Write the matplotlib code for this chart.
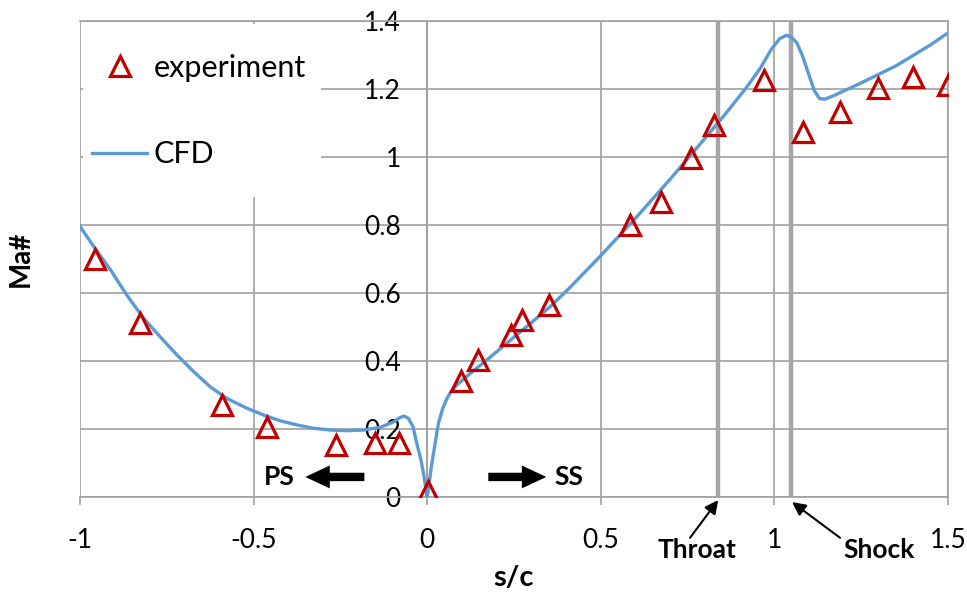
import numpy as np
import matplotlib
matplotlib.use('Agg')
import matplotlib.pyplot as plt
from matplotlib.patches import Rectangle

plt.rcParams['font.family'] = ['Lato', 'DejaVu Sans']
plt.rcParams['axes.unicode_minus'] = False

# 实验数据 (s/c, Ma)
exp_x = [-0.956, -0.826, -0.590, -0.461, -0.262, -0.150, -0.080, 0.003,
         0.098, 0.147, 0.242, 0.273, 0.351, 0.584, 0.674, 0.760, 0.826,
         0.970, 1.082, 1.189, 1.298, 1.399, 1.500]
exp_y = [0.700, 0.512, 0.270, 0.206, 0.153, 0.158, 0.158, 0.018,
         0.341, 0.403, 0.476, 0.520, 0.565, 0.800, 0.868, 0.997, 1.095,
         1.226, 1.074, 1.132, 1.203, 1.235, 1.212]

# CFD 曲线
cfd_x = [-1.0, -0.960, -0.912, -0.864, -0.817, -0.769, -0.721, -0.673, -0.625,
         -0.577, -0.519, -0.471, -0.423, -0.375, -0.327, -0.279, -0.231, -0.183,
         -0.135, -0.097, -0.078, -0.066, -0.054, -0.041, -0.030, -0.018, -0.009,
         -0.004, 0.0, 0.005, 0.010, 0.016, 0.024, 0.032, 0.044, 0.057, 0.070,
         0.086, 0.12, 0.18, 0.25, 0.32, 0.36, 0.385, 0.41, 0.50, 0.60, 0.70,
         0.80, 0.86, 0.92, 0.96, 0.99, 1.015, 1.035, 1.05, 1.065, 1.08, 1.10,
         1.115, 1.13, 1.145, 1.17, 1.25, 1.35, 1.45, 1.50]
cfd_y = [0.796, 0.736, 0.668, 0.592, 0.526, 0.471, 0.418, 0.369, 0.324,
         0.290, 0.261, 0.241, 0.224, 0.212, 0.202, 0.197, 0.195, 0.197,
         0.205, 0.221, 0.234, 0.238, 0.231, 0.207, 0.158, 0.109, 0.060,
         0.025, 0.0, 0.035, 0.075, 0.115, 0.165, 0.215, 0.258, 0.290, 0.312,
         0.330, 0.360, 0.410, 0.470, 0.530, 0.565, 0.590, 0.615, 0.710, 0.820,
         0.935, 1.055, 1.128, 1.205, 1.262, 1.315, 1.348, 1.358, 1.352, 1.335,
         1.300, 1.240, 1.195, 1.172, 1.170, 1.180, 1.218, 1.268, 1.330, 1.365]

xticks = [-1, -0.5, 0, 0.5, 1, 1.5]
yticks = [0, 0.2, 0.4, 0.6, 0.8, 1.0, 1.2, 1.4]
throat_x = 0.838
shock_x = 1.048

grid_c = '#a0a0a0'

fig = plt.figure(figsize=(9.67, 5.95), dpi=100)
ax = fig.add_axes([80 / 967, 98 / 595, 868 / 967, 476 / 595])
ax.set_xlim(-1, 1.5)
ax.set_ylim(0, 1.4)
ax.set_xticks(xticks)
ax.set_yticks(yticks)
ax.set_xticklabels(['%g' % v for v in xticks])
ax.set_yticklabels(['%g' % v for v in yticks])
ax.grid(True, color=grid_c, lw=1.2, zorder=0)
ax.set_axisbelow(True)

for s in ax.spines.values():
    s.set_color(grid_c)
    s.set_linewidth(1.2)
ax.spines['left'].set_position(('data', 0))

ax.tick_params(axis='x', direction='out', length=6, width=1.2, color=grid_c,
               labelsize=19, pad=16)
ax.tick_params(axis='y', length=0, labelsize=19, pad=19)

# 喉部 / 激波位置
ax.axvline(throat_x, color='#a6a6a6', lw=3.2, zorder=1)
ax.axvline(shock_x, color='#a6a6a6', lw=3.2, zorder=1)

# 图例背景
ax.add_patch(Rectangle((-0.991, 0.882), 0.686, 0.509, facecolor='white',
                       edgecolor='none', zorder=1.5))

ax.plot(cfd_x, cfd_y, color='#5b9bd5', lw=2.4, label='CFD', zorder=3)
ax.plot(exp_x, exp_y, ls='none', marker='^', ms=15, mfc='none', mec='#c00000',
        mew=2.3, label='experiment', zorder=4)

h, l = ax.get_legend_handles_labels()
leg = ax.legend([h[1], h[0]], [l[1], l[0]], loc='upper left',
                bbox_to_anchor=(0.0, 0.956), frameon=False, fontsize=22,
                handlelength=1.8, handletextpad=0.2, labelspacing=1.9,
                borderaxespad=0.0)

ax.set_xlabel('s/c', fontsize=21, fontweight='bold', labelpad=9)
ax.set_ylabel('Ma#', fontsize=20, fontweight='bold')
ax.yaxis.set_label_coords((34 - 80) / 868, 0.5)

# PS / SS 箭头
arr = dict(arrowstyle='simple,head_length=1.6,head_width=1.5,tail_width=0.55',
           color='black', lw=0, mutation_scale=11, shrinkA=0, shrinkB=0)
ax.annotate('', xy=(-0.351, 0.059), xytext=(-0.181, 0.059), arrowprops=arr)
ax.annotate('', xy=(0.343, 0.059), xytext=(0.176, 0.059), arrowprops=arr)
ax.text(-0.426, 0.059, 'PS', fontsize=19, fontweight='bold', ha='center', va='center')
ax.text(0.409, 0.059, 'SS', fontsize=19, fontweight='bold', ha='center', va='center')

# Throat / Shock 标注
ann = dict(arrowstyle='-|>', color='black', lw=1.5, mutation_scale=20,
           shrinkA=0, shrinkB=0)
ax.annotate('', xy=(throat_x, -0.009), xytext=(0.757, -0.12), arrowprops=ann,
            annotation_clip=False)
ax.annotate('', xy=(shock_x + 0.003, -0.015), xytext=(1.189, -0.12), arrowprops=ann,
            annotation_clip=False)
ax.text(0.777, -0.155, 'Throat', fontsize=19, fontweight='bold', ha='center',
        va='center', clip_on=False)
ax.text(1.301, -0.155, 'Shock', fontsize=19, fontweight='bold', ha='center',
        va='center', clip_on=False)

fig.savefig('out.png', dpi=100)
